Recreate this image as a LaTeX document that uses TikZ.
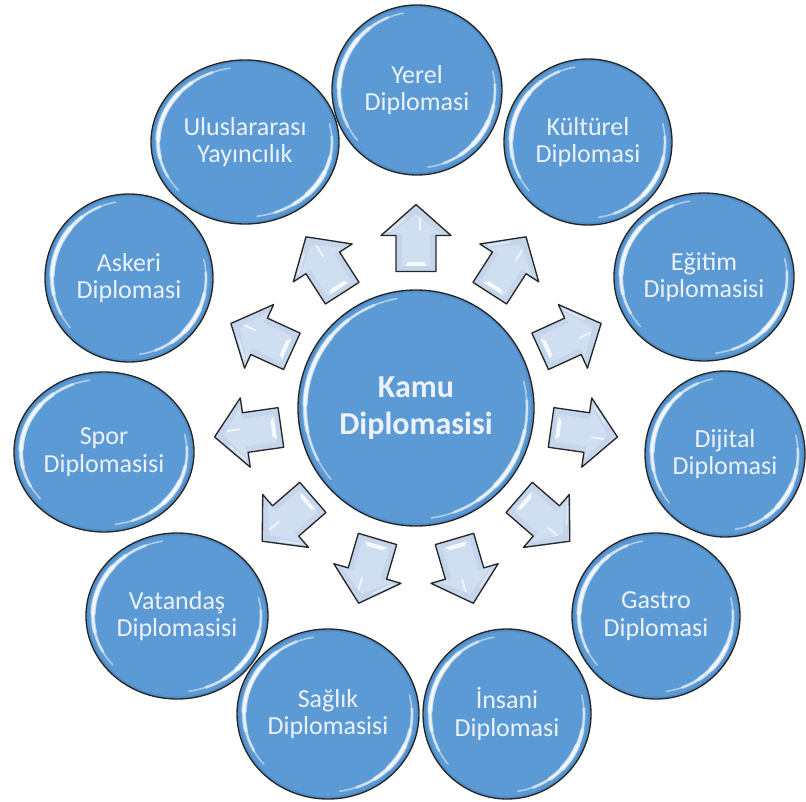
\documentclass[tikz,border=0pt]{standalone}
\usepackage{fontspec}
\setmainfont{Carlito}
\usetikzlibrary{calc}
\definecolor{bubblefill}{RGB}{91,154,212}
\definecolor{bubbledark}{RGB}{62,118,178}
\definecolor{outlinecol}{RGB}{38,38,38}
\definecolor{txtcol}{RGB}{236,242,250}
\definecolor{arrowfill}{RGB}{196,213,236}
\definecolor{arrowlight}{RGB}{212,226,244}

\tikzset{
  lbl/.style={text=txtcol, font=\fontsize{19.5}{20.5}\selectfont, align=center, inner sep=0pt},
  centerlbl/.style={text=txtcol, font=\fontsize{24}{27.5}\selectfont\bfseries, align=center, inner sep=0pt},
  bubbleline/.style={draw=outlinecol, line width=1.0pt},
  arrowbody/.style={fill=arrowfill, draw=outlinecol, line width=1.0pt, line join=round},
  glint/.style={white, line cap=round, opacity=.85},
  gloss/.style={white, line cap=round, opacity=.5},
}

% centre name, rx, ry, start, end, width
\newcommand{\glossarc}[6]{%
  \draw[gloss, line width=#6]
    ($(#1-c)+({(#2-7)*cos(#4)},{(#3-7)*sin(#4)})$)
    arc[start angle=#4, end angle=#5, x radius={#2-7}, y radius={#3-7}];
}

% name, x, y, rx, ry, style, text
\newcommand{\bubble}[7]{%
  \coordinate (#1-c) at (#2,#3);
  \fill[bubblefill] (#1-c) ellipse [x radius=#4, y radius=#5];
  \draw[bubbledark, line width=1.5pt, opacity=.35] (#1-c) ellipse [x radius=#4-1.5, y radius=#5-1.5];
  \glossarc{#1}{#4}{#5}{100}{220}{1.2pt}
  \glossarc{#1}{#4}{#5}{112}{208}{2.2pt}
  \glossarc{#1}{#4}{#5}{128}{192}{3.2pt}
  \glossarc{#1}{#4}{#5}{140}{178}{4.0pt}
  \glossarc{#1}{#4}{#5}{-82}{14}{1.2pt}
  \glossarc{#1}{#4}{#5}{-70}{4}{2.2pt}
  \glossarc{#1}{#4}{#5}{-56}{-12}{3.2pt}
  \glossarc{#1}{#4}{#5}{-44}{-24}{4.0pt}
  \draw[bubbleline] (#1-c) ellipse [x radius=#4, y radius=#5];
  \node[#6] (#1) at (#1-c) {#7};
}

% name, angle
\newcommand{\blockarrow}[2]{%
  \begin{scope}[shift={($(kamu-c)+(#2:170)$)}, rotate=#2]
    \coordinate (#1) at (0,0);
    \draw[arrowbody] (-33.5,-20) -- (2.5,-20) -- (2.5,-35) -- (33.5,0)
      -- (2.5,35) -- (2.5,20) -- (-33.5,20) -- cycle;
    \fill[arrowlight, opacity=.7] (-28,-14) -- (4,-14) -- (4,-26) -- (24,0)
      -- (4,26) -- (4,14) -- (-28,14) -- cycle;
    \fill[white, opacity=.85] (-28,-11) -- (-24,-8) -- (-24,8) -- (-28,11) -- cycle;
    \draw[glint, line width=1.4pt, opacity=.7] (8,-4) -- (20,-4);
    \draw[glint, line width=1.2pt, opacity=.5] (6,27) -- (20,11);
  \end{scope}
}

\begin{document}
\begin{tikzpicture}[x=0.75pt, y=0.75pt]
  \useasboundingbox (0,0) rectangle (806,801);

  % centre
  \bubble{kamu}{416}{393}{118}{118}{centerlbl}{Kamu\\Diplomasisi}

  % outer bubbles
  \bubble{yerel}{417}{711}{85}{85}{lbl}{Yerel\\Diplomasi}
  \bubble{kulturel}{588}{659}{84}{83}{lbl}{Kültürel\\Diplomasi}
  \bubble{egitim}{704}{524}{90}{84}{lbl}{Eğitim\\Diplomasisi}
  \bubble{dijital}{725}{347}{80}{83}{lbl}{Dijital\\Diplomasi}
  \bubble{gastro}{656}{185}{84}{83}{lbl}{Gastro\\Diplomasi}
  \bubble{insani}{507}{87}{84}{85}{lbl}{İnsani\\Diplomasi}
  \bubble{saglik}{328}{87}{91}{85}{lbl}{Sağlık\\Diplomasisi}
  \bubble{vatandas}{177}{185}{91}{83}{lbl}{Vatandaş\\Diplomasisi}
  \bubble{spor}{104}{349}{90}{80}{lbl}{Spor\\Diplomasisi}
  \bubble{askeri}{129}{523}{84}{84}{lbl}{Askeri\\Diplomasi}
  \bubble{ulus}{245}{659}{94}{82}{lbl}{Uluslararası\\Yayıncılık}

  % arrows
  \foreach \k in {0,...,10} {
    \pgfmathsetmacro{\ang}{90-\k*360/11}
    \blockarrow{arr\k}{\ang}
  }
\end{tikzpicture}
\end{document}
